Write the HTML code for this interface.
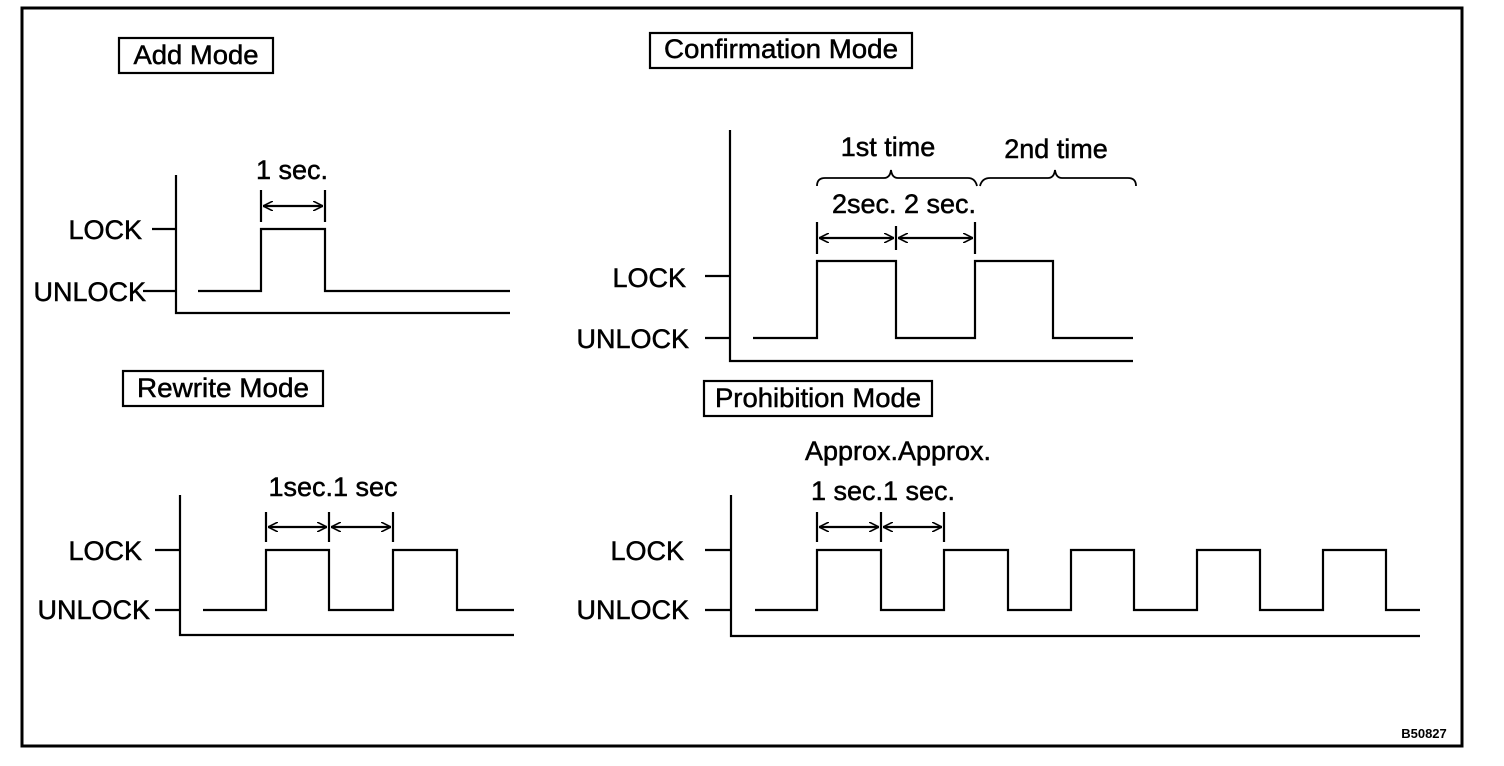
<!DOCTYPE html>
<html><head><meta charset="utf-8"><style>
html,body{margin:0;padding:0;background:#fff;}
svg{display:block;}
text{font-family:"Liberation Sans",Arial,sans-serif;fill:#000;stroke:#000;stroke-width:0.5;}
</style></head><body>
<svg width="1504" height="766" viewBox="0 0 1504 766" xmlns="http://www.w3.org/2000/svg">
<defs>
<marker id="a" viewBox="0 0 10 10" refX="10" refY="5" markerWidth="10" markerHeight="10" orient="auto-start-reverse" markerUnits="userSpaceOnUse"><path d="M0,0 L10,5 L0,10" fill="none" stroke="#000" stroke-width="1.6"/></marker>
</defs>
<g fill="none" stroke="#000" stroke-width="2.2">
<rect x="22" y="8" width="1440" height="738" stroke-width="3"/>
<rect x="119" y="38" width="154" height="35"/>
<path d="M176 175 V313 H510"/>
<path d="M152 229 H176 M143 291 H176"/>
<path d="M198 291 H261 V229 H325 V291 H510"/>
<path d="M261 190 V222 M325 190 V222"/>
<path d="M263 206 H323" marker-start="url(#a)" marker-end="url(#a)"/>
<rect x="650" y="33" width="262" height="35"/>
<path d="M730 130 V361 H1133"/>
<path d="M705 276 H730 M705 338 H730"/>
<path d="M753 338 H817 V261 H896 V338 H975 V261 H1053 V338 H1133"/>
<path d="M817 222 V254 M896 226 V250 M975 222 V254"/>
<path d="M819 238 H894" marker-start="url(#a)" marker-end="url(#a)"/>
<path d="M898 238 H973" marker-start="url(#a)" marker-end="url(#a)"/>
<path d="M817 186 Q817 178 825 178 H884 Q890 178 891 170 Q892 178 898 178 H968 Q975 178 977 186" stroke-width="1.8"/>
<path d="M980 186 Q982 178 990 178 H1048 Q1054 178 1055 170 Q1056 178 1062 178 H1128 Q1136 178 1136 186" stroke-width="1.8"/>
<rect x="123" y="371" width="200" height="35"/>
<path d="M180 495 V635 H514"/>
<path d="M155 550 H180 M155 610 H180"/>
<path d="M203 610 H266 V550 H329 V610 H393 V550 H457 V610 H514"/>
<path d="M266 512 V542 M329 512 V542 M393 512 V542"/>
<path d="M268 527 H327" marker-start="url(#a)" marker-end="url(#a)"/>
<path d="M331 527 H391" marker-start="url(#a)" marker-end="url(#a)"/>
<rect x="704" y="381" width="228" height="35"/>
<path d="M731 495 V636 H1420"/>
<path d="M705 550 H731 M705 610 H731"/>
<path d="M755 610 H817 V550 H881 V610 H944 V550 H1008 V610 H1071 V550 H1134 V610 H1197 V550 H1260 V610 H1323 V550 H1386 V610 H1420"/>
<path d="M817 512 V542 M881 512 V542 M944 512 V542"/>
<path d="M819 527 H879" marker-start="url(#a)" marker-end="url(#a)"/>
<path d="M883 527 H942" marker-start="url(#a)" marker-end="url(#a)"/>
</g>
<g font-size="27">
<text x="196" y="64" text-anchor="middle" textLength="125" lengthAdjust="spacingAndGlyphs">Add Mode</text>
<text x="781" y="58" text-anchor="middle" textLength="234" lengthAdjust="spacingAndGlyphs">Confirmation Mode</text>
<text x="223" y="397" text-anchor="middle" textLength="172" lengthAdjust="spacingAndGlyphs">Rewrite Mode</text>
<text x="818" y="407" text-anchor="middle" textLength="206" lengthAdjust="spacingAndGlyphs">Prohibition Mode</text>
<text x="292" y="179" text-anchor="middle">1 sec.</text>
<text x="142" y="239" text-anchor="end">LOCK</text>
<text x="146" y="301" text-anchor="end">UNLOCK</text>
<text x="686" y="287" text-anchor="end">LOCK</text>
<text x="689" y="348" text-anchor="end">UNLOCK</text>
<text x="888" y="156" text-anchor="middle">1st time</text>
<text x="1056" y="158" text-anchor="middle">2nd time</text>
<text x="904" y="213" text-anchor="middle">2sec. 2 sec.</text>
<text x="142" y="560" text-anchor="end">LOCK</text>
<text x="150" y="619" text-anchor="end">UNLOCK</text>
<text x="333" y="496" text-anchor="middle">1sec.1 sec</text>
<text x="684" y="560" text-anchor="end">LOCK</text>
<text x="689" y="619" text-anchor="end">UNLOCK</text>
<text x="898" y="460" text-anchor="middle">Approx.Approx.</text>
<text x="883" y="500" text-anchor="middle">1 sec.1 sec.</text>
</g>
<text x="1424" y="738" text-anchor="middle" font-size="13" font-weight="bold" style="stroke-width:0">B50827</text>
</svg>
</body></html>
